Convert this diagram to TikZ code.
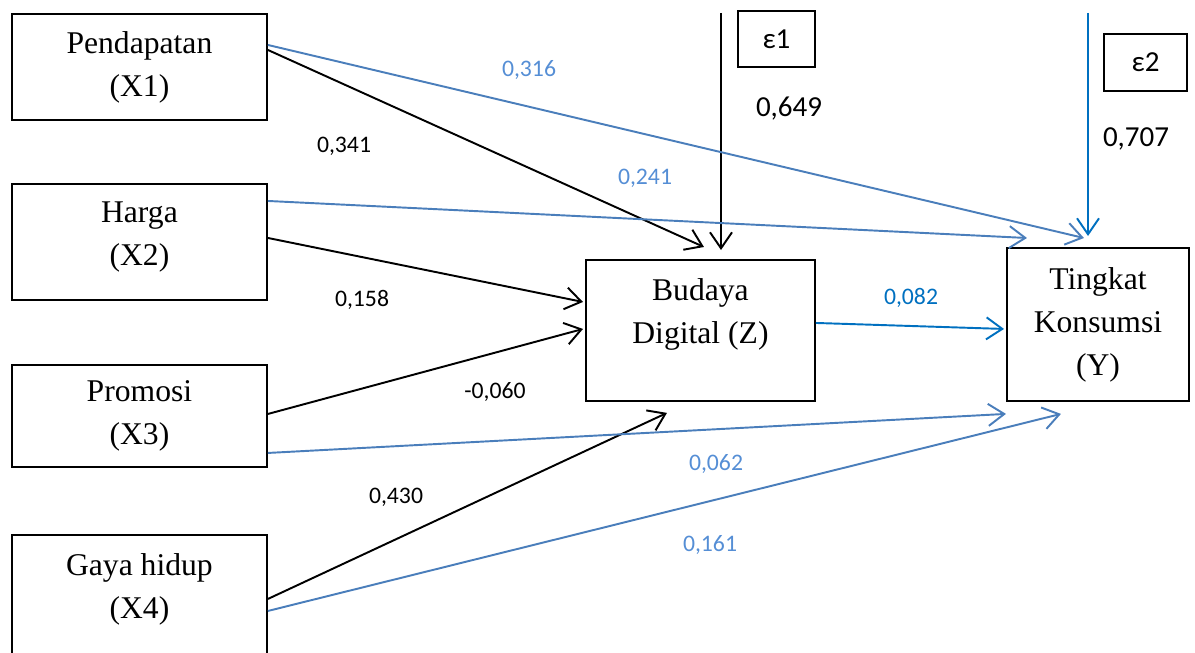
\documentclass[tikz,border=0pt]{standalone}
\usepackage{fontspec}
\setmainfont{Liberation Serif}
\newfontfamily\calibri{Carlito}
\usetikzlibrary{arrows.meta}
\definecolor{lineblue}{RGB}{74,126,187}
\definecolor{lblblue}{RGB}{85,142,213}
\definecolor{darkblue}{RGB}{0,112,192}
\tikzset{
  var/.style={draw, line width=1.1pt, align=center, inner sep=0pt, anchor=north west,
    font=\fontsize{18}{24.5}\selectfont},
  errbox/.style={draw, line width=1.1pt, inner sep=0pt, anchor=north west,
    font=\calibri\fontsize{16.5}{20}\selectfont},
  link/.style={line width=1.1pt, -{Straight Barb[length=3.2mm,width=4.4mm]}},
  coef/.style={font=\calibri\fontsize{13.5}{16}\selectfont},
  bigcoef/.style={font=\calibri\fontsize{16.5}{20}\selectfont}
}
\begin{document}
\begin{tikzpicture}[x=0.02cm,y=-0.02cm]
                    \useasboundingbox (0,0) rectangle (1195,652);

                    % variables
                    \node[var, minimum width=5.1cm, minimum height=2.12cm] (x1) at (11,13) {Pendapatan\\(X1)};
                    \node[var, minimum width=5.1cm, minimum height=2.32cm, text depth=9pt] (x2) at (11,183) {Harga\\(X2)};
                    \node[var, minimum width=5.1cm, minimum height=2.04cm] (x3) at (11,364) {Promosi\\(X3)};
                    \node[var, minimum width=5.1cm, minimum height=2.92cm, text depth=25pt] (x4) at (11,534) {Gaya hidup\\(X4)};
                    \node[var, minimum width=4.58cm, minimum height=2.82cm, text depth=22pt] (z) at (585,259) {Budaya\\Digital (Z)};
                    \node[var, minimum width=3.64cm, minimum height=3.06cm] (y) at (1006,247) {Tingkat\\Konsumsi\\(Y)};

                    % error terms
                    \node[errbox, minimum width=1.54cm, minimum height=1.12cm] (e1) at (737,10) {ε1};
                    \node[errbox, minimum width=1.66cm, minimum height=1.14cm] (e2) at (1103,33) {ε2\hspace{0.28cm}};
                    \coordinate (e1top) at (721,13);
                    \coordinate (e2top) at (1088,13);

                    % paths to Z
                    \draw[link] ([yshift=0.34cm]x1.east) -- ([xshift=0.07cm,yshift=0.24cm]z.north);
                    \draw[link] ([yshift=0.08cm]x2.east) -- ([xshift=-0.04cm,yshift=0.57cm]z.west);
                    \draw[link] ([yshift=0.04cm]x3.east) -- ([xshift=-0.04cm,yshift=0.03cm]z.west);
                    \draw[link] ([yshift=0.18cm]x4.east) -- ([xshift=-0.67cm,yshift=-0.22cm]z.south);
                    \draw[link] (e1top) -- ([yshift=0.18cm]e1top |- z.north);

                    % paths to Y
                    \draw[link, lineblue] ([yshift=0.44cm]x1.east) -- ([xshift=-0.28cm,yshift=0.18cm]y.north);
                    \draw[link, lineblue] ([yshift=0.82cm]x2.east) -- ([xshift=-1.42cm,yshift=0.18cm]y.north);
                    \draw[link, lineblue] ([yshift=-0.74cm]x3.east) -- ([xshift=-1.84cm,yshift=-0.24cm]y.south);
                    \draw[link, lineblue] ([yshift=-0.06cm]x4.east) -- ([xshift=-0.74cm,yshift=-0.24cm]y.south);
                    \draw[link, darkblue] ([yshift=0.15cm]z.east) -- ([xshift=-0.04cm,yshift=-0.09cm]y.west);
                    \draw[link, darkblue] (e2top) -- ([yshift=0.22cm]e2top |- y.north);

                    % coefficients
                    \node[coef, lblblue] (c1) at (529,70) {0,316};
                    \node[coef] (c2) at (344,146) {0,341};
                    \node[coef, lblblue] (c3) at (645,178) {0,241};
                    \node[coef] (c4) at (362,300) {0,158};
                    \node[coef] (c5) at (495,392) {-0,060};
                    \node[coef] (c6) at (396,497) {0,430};
                    \node[coef, lblblue] (c7) at (716,464) {0,062};
                    \node[coef, lblblue] (c8) at (710,545) {0,161};
                    \node[coef, darkblue] (c9) at (911,298) {0,082};
                    \node[bigcoef] (c10) at (789,109) {0,649};
                    \node[bigcoef] (c11) at (1136,139) {0,707};
\end{tikzpicture}
\end{document}
